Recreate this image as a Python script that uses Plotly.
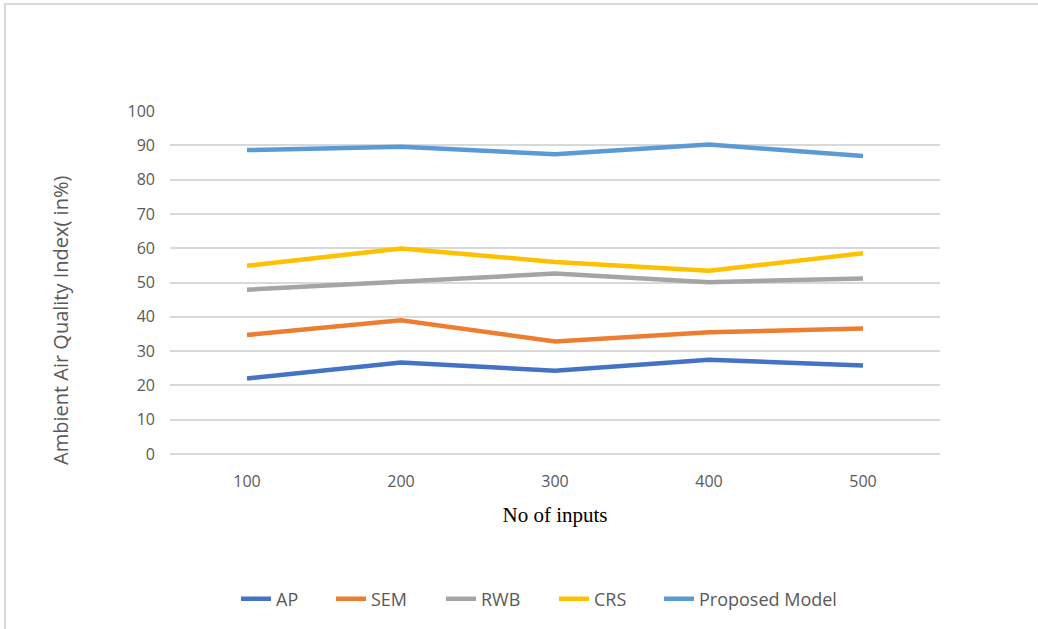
import plotly.graph_objects as go

# Number of inputs (category axis)
inputs = ["100", "200", "300", "400", "500"]

# Ambient Air Quality Index (%) for each method
ap = [22.0, 26.7, 24.3, 27.5, 25.8]
sem = [34.7, 39.0, 32.8, 35.5, 36.6]
rwb = [47.9, 50.2, 52.6, 50.1, 51.2]
crs = [54.9, 59.9, 56.0, 53.4, 58.5]
proposed = [88.6, 89.6, 87.4, 90.2, 86.9]

series_names = ["AP", "SEM", "RWB", "CRS", "Proposed Model"]
series_values = [ap, sem, rwb, crs, proposed]
series_colors = ["#4472C4", "#ED7D31", "#A5A5A5", "#FFC000", "#5B9BD5"]

W, H = 1038, 629
L, R, T, B = 170, 98, 111, 175
pw, ph = W - L - R, H - T - B


def px_x(x):
    return (x - L) / pw


def px_y(y):
    return (H - B - y) / ph


# Left edge of each legend entry's label along the bottom row
legend_text_x = [276, 371, 481, 594, 699]
legend_ids = ["legend", "legend2", "legend3", "legend4", "legend5"]

fig = go.Figure()
for name, vals, col, lid in zip(series_names, series_values, series_colors, legend_ids):
    fig.add_trace(go.Scatter(
        x=inputs, y=vals, name=name, mode="lines",
        line=dict(color=col, width=4.5),
        legend=lid,
    ))

legend_layout = {}
for lid, tx in zip(legend_ids, legend_text_x):
    legend_layout[lid] = dict(
        orientation="h", x=px_x(tx - 40), xanchor="left", y=px_y(599), yanchor="middle",
        font=dict(size=18, color="#595959"), bgcolor="rgba(0,0,0,0)", borderwidth=0,
    )

fig.update_layout(
    width=W, height=H,
    margin=dict(l=L, r=R, t=T, b=B),
    paper_bgcolor="white", plot_bgcolor="white",
    font=dict(family="Open Sans, Liberation Sans, sans-serif", size=16, color="#595959"),
    showlegend=True,
    xaxis=dict(
        type="category", range=[-0.5, 4.5], showgrid=False, zeroline=False, showline=False,
        tickfont=dict(size=16, color="#595959"), ticks="", ticklabelstandoff=16,
        title=dict(text="No of inputs", standoff=16,
                   font=dict(family="Liberation Serif, Times New Roman, serif", size=21, color="#000000")),
    ),
    yaxis=dict(
        range=[0, 100], dtick=10, showgrid=True, gridcolor="#D9D9D9", gridwidth=1.5,
        zeroline=True, zerolinecolor="#D9D9D9", zerolinewidth=1.5,
        showline=False, ticks="", ticklabelstandoff=14,
        tickfont=dict(size=16, color="#595959"),
    ),
    annotations=[
        dict(text="Ambient Air Quality Index( in%)", xref="paper", yref="paper",
             x=px_x(60), y=px_y(321), xanchor="center", yanchor="middle",
             textangle=-90, showarrow=False, font=dict(size=20, color="#595959")),
    ],
    shapes=[
        dict(type="line", xref="paper", yref="paper",
             x0=px_x(4), x1=px_x(W), y0=px_y(4), y1=px_y(4),
             line=dict(color="#D9D9D9", width=2)),
        dict(type="line", xref="paper", yref="paper",
             x0=px_x(5), x1=px_x(5), y0=px_y(4), y1=px_y(H),
             line=dict(color="#D9D9D9", width=2)),
    ],
    **legend_layout,
)

fig.write_html("out.html")
